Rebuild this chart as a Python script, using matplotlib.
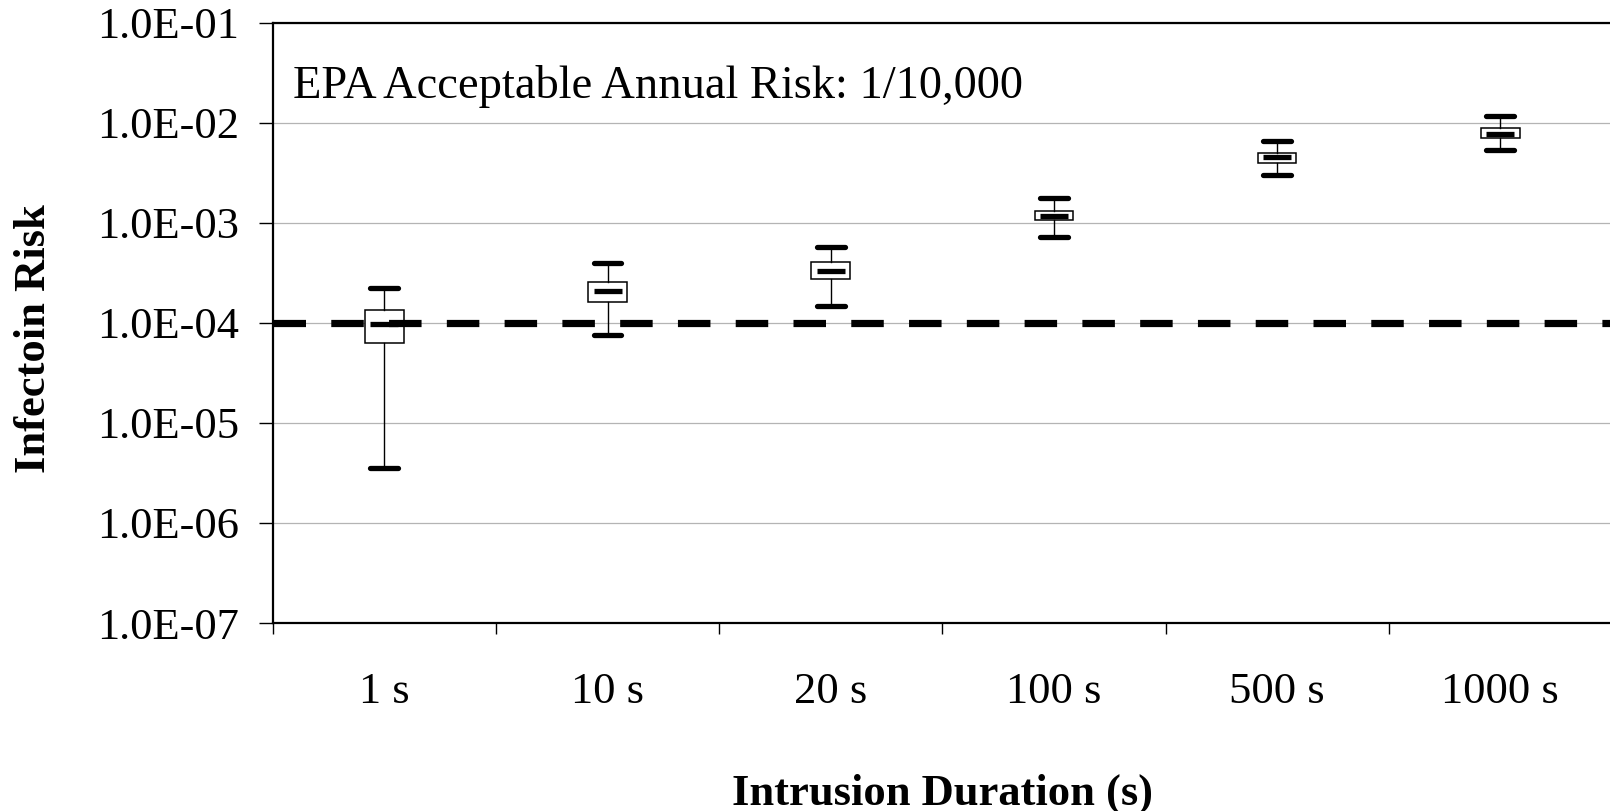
import numpy as np
import matplotlib
matplotlib.use("Agg")
import matplotlib.pyplot as plt
from matplotlib.ticker import FuncFormatter, NullLocator

# Infection risk distribution per intrusion duration
durations = ["1 s", "10 s", "20 s", "100 s", "500 s", "1000 s"]
whisker_low = [3.52e-6, 7.60e-5, 1.46e-4, 7.24e-4, 2.98e-3, 5.37e-3]
q1 = [6.24e-5, 1.60e-4, 2.72e-4, 1.06e-3, 3.93e-3, 6.98e-3]
medians = [9.66e-5, 2.08e-4, 3.32e-4, 1.17e-3, 4.51e-3, 7.71e-3]
q3 = [1.34e-4, 2.54e-4, 4.08e-4, 1.32e-3, 4.94e-3, 8.91e-3]
whisker_high = [2.21e-4, 3.99e-4, 5.69e-4, 1.75e-3, 6.52e-3, 1.17e-2]
epa_risk = 1 / 10000

plt.rcParams["font.family"] = ["Liberation Serif", "DejaVu Serif"]
plt.rcParams["font.size"] = 32

fig = plt.figure(figsize=(16.1, 8.11), dpi=100)
ax = fig.add_axes([272.7 / 1610, 188 / 811, 1339.2 / 1610, 600.4 / 811])

pos = np.arange(len(durations))
stats = [dict(med=m, q1=a, q3=b, whislo=lo, whishi=hi, fliers=[])
         for m, a, b, lo, hi in zip(medians, q1, q3, whisker_low, whisker_high)]
ax.bxp(stats, positions=pos, widths=0.173, capwidths=0.124, showfliers=False,
       patch_artist=True,
       boxprops=dict(facecolor="white", edgecolor="black", linewidth=1.1),
       whiskerprops=dict(color="black", linewidth=1.0),
       capprops=dict(color="black", linewidth=3.8, solid_capstyle="round"),
       medianprops=dict(linewidth=0), zorder=3)
ax.plot(pos, medians, ls="none", marker="_", ms=19.5, mew=3.8, color="black", zorder=4)

ax.axhline(epa_risk, color="black", linewidth=5.2, linestyle=(0, (4.5, 3.5)),
           dash_capstyle="butt", zorder=5)

ax.set_yscale("log")
ax.set_ylim(1e-7, 1e-1)
ax.set_xlim(-0.5, 5.5)
ax.set_yticks([10.0 ** k for k in range(-7, 0)])
ax.yaxis.set_minor_locator(NullLocator())
ax.yaxis.set_major_formatter(FuncFormatter(lambda v, _: f"{v:.1E}"))
ax.grid(axis="y", color="#b4b4b4", linewidth=0.9)
ax.set_axisbelow(True)

ax.set_xticks(np.arange(-0.5, 6, 1))
ax.set_xticklabels([])
ax.set_xticks(pos, durations, minor=True)
ax.tick_params(axis="x", which="major", length=8, width=1.0, direction="out")
ax.tick_params(axis="x", which="minor", length=0, pad=35)
ax.tick_params(axis="y", length=10, width=1.0, pad=14)

for side in ["left", "top", "bottom"]:
    ax.spines[side].set_linewidth(1.6)
ax.spines["right"].set_visible(False)

ax.text(0.0149, 0.875, "EPA Acceptable Annual Risk: 1/10,000", transform=ax.transAxes,
        va="baseline", ha="left", fontsize=33.5)

ax.set_ylabel("Infectoin Risk", fontweight="bold")
ax.yaxis.set_label_coords(-0.163, 0.473)
ax.set_xlabel("Intrusion Duration (s)", fontweight="bold")
ax.xaxis.set_label_coords(0.5, -0.25)

fig.savefig("out.png", dpi=100, facecolor="white")
